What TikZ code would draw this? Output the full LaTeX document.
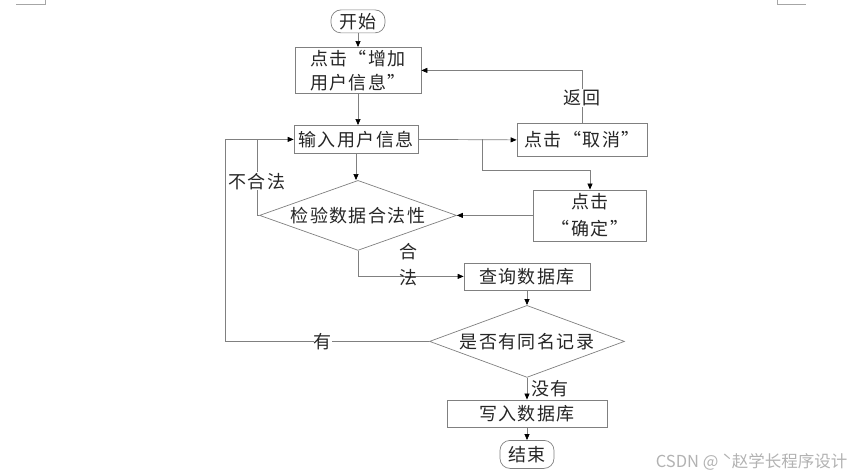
\documentclass[tikz,border=0pt]{standalone}
\usepackage{fontspec}
\setmainfont{Noto Sans CJK SC}
\newfontfamily\cjkwide{Noto Sans CJK SC}[LetterSpace=8]
\usetikzlibrary{shapes.geometric, arrows.meta}
\definecolor{linegray}{gray}{0.5}
\tikzset{
  box/.style={draw=linegray, line width=0.7pt, fill=white, inner sep=0pt, align=center, text=black!85},
  term/.style={box, rounded corners=10pt},
  test/.style={box, diamond, aspect=2.8},
  line/.style={draw=linegray, line width=0.7pt},
  arr/.style={line, -{Triangle[length=6pt,width=5pt,color=black]}},
  lbl/.style={fill=white, inner sep=1pt, text=black!85}
}
\begin{document}
\begin{tikzpicture}[x=1pt,y=-1pt,font=\cjkwide\fontsize{18}{24}\selectfont]
\path (0,0) -- (856,475);
\draw[black!35, line width=0.8pt] (16,4) -- (45,4) -- (45,0);
\draw[black!35, line width=0.8pt] (777,0) -- (777,4) -- (806,4);
\node[term, minimum width=54pt, minimum height=23pt] (start) at (358,21) {开始};
\node[box, minimum width=126pt, minimum height=46pt] (add) at (358,70) {点击“增加\\用户信息”};
\node[box, minimum width=124pt, minimum height=28pt] (input) at (356,139) {输入用户信息};
\node[box, minimum width=130pt, minimum height=33pt] (cancel) at (582,139.5) {点击“取消”};
\node[box, minimum width=113pt, minimum height=51pt] (ok) at (590,215) {点击\\[3pt]“确定”};
\node[test, minimum width=197pt, minimum height=70pt] (check) at (358,215) {检验数据合法性};
\node[box, minimum width=126pt, minimum height=27pt] (query) at (527,276) {查询数据库};
\node[test, minimum width=195pt, minimum height=72pt] (dup) at (527,341) {是否有同名记录};
\node[box, minimum width=160pt, minimum height=27pt] (write) at (527,413) {写入数据库};
\node[term, minimum width=54pt, minimum height=28pt] (end) at (527,454) {结束};
\node[text=black!30, font=\rmfamily\fontsize{16.5}{18}\selectfont, anchor=east] (mark) at (851,462) {CSDN @ ˋ赵学长程序设计};
% main column
\draw[arr] (start) -- (start |- add.north);
\draw[arr] (add) -- (add |- input.north);
\draw[arr] (input) -- (input |- check.north);
\draw[arr] (query) -- (dup);
\draw[arr] (dup) -- node[right, inner sep=4pt, text=black!85]{没有} (write);
\draw[arr] (write) -- (end);
% cancel and confirm
\coordinate (fork) at (482,139);
\draw[arr] (input.east) -- (cancel.west);
\draw[arr] (fork) -- ++(0,31) -| (ok.north);
\draw[arr] (cancel.north) |- node[lbl, pos=0.24]{返回} (add.east);
\draw[arr] (ok.west) -- (check.east);
% loops back
\coordinate (bad) at (257,215);
\coordinate (loop) at (225,139);
\draw[arr] (check.west) -- (bad) -- node[lbl, pos=0.45]{不合法} (bad |- input.west) -- (input.west);
\draw[line] (dup.west) -- node[lbl, pos=0.52, inner sep=0pt]{有} (dup.west -| loop) -- (loop) -- (bad |- input.west);
\draw[arr] (check.south) |- node[pos=0.74, yshift=12pt, align=center, inner sep=0pt, text=black!85, font=\cjkwide\fontsize{18}{26}\selectfont]{合\\法} (query.west);
\end{tikzpicture}
\end{document}
